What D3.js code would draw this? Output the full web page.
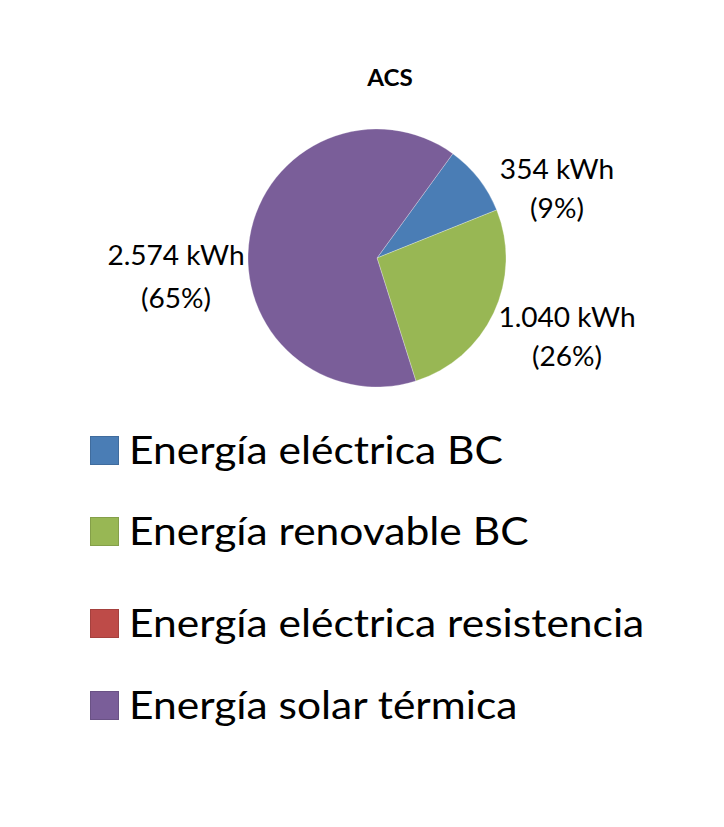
<!DOCTYPE html>
<html>
<head>
<meta charset="utf-8">
<script src="https://cdnjs.cloudflare.com/ajax/libs/d3/7.8.5/d3.min.js"></script>
<style>
  body { margin: 0; background: #fff; }
</style>
</head>
<body>
<script>
const title = "ACS";
const categories = ["Energía eléctrica BC", "Energía renovable BC", "Energía eléctrica resistencia", "Energía solar térmica"];
const values = [354, 1040, 0, 2574];
const valueLabels = ["354 kWh", "1.040 kWh", "", "2.574 kWh"];
const pctLabels = ["(9%)", "(26%)", "", "(65%)"];
const colors = ["#4a7db5", "#98b754", "#be4b48", "#7a5e99"];

const width = 724, height = 827;
const cx = 377, cy = 258, radius = 129;
const font = "Lato, 'Open Sans', sans-serif";

const svg = d3.select("body").append("svg")
    .attr("width", width)
    .attr("height", height);

// title (the original is slightly stretched horizontally)
svg.append("text")
    .attr("transform", "translate(390,86) scale(1.1,1)")
    .attr("text-anchor", "middle")
    .style("font-family", font)
    .style("font-weight", "700")
    .style("font-size", "22px")
    .text(title);

const data = categories.map((c, i) => ({label: c, value: values[i], color: colors[i], vl: valueLabels[i], pl: pctLabels[i]}));

const startA = 36 * Math.PI / 180;
const pie = d3.pie().sort(null).value(d => d.value)
    .startAngle(startA).endAngle(startA + 2 * Math.PI);
const arc = d3.arc().innerRadius(0).outerRadius(radius);

const g = svg.append("g").attr("transform", "translate(" + cx + "," + cy + ")");
const arcs = pie(data);

g.selectAll("path")
    .data(arcs.filter(d => d.data.value > 0))
    .enter()
    .append("path")
    .attr("d", arc)
    .attr("fill", d => d.data.color)
    .attr("stroke", "#ffffff")
    .attr("stroke-opacity", 0.35)
    .attr("stroke-width", 0.8);

// data labels, placed outside the slices: [x, baseline, line gap]
const labelPos = {
    "354 kWh": [180, -79, 39],
    "1.040 kWh": [190, 69, 39],
    "2.574 kWh": [-201, 7, 43]
};
arcs.filter(d => d.data.value > 0).forEach(function (d) {
    const p = labelPos[d.data.vl];
    const t = g.append("text")
        .attr("transform", "translate(" + p[0] + "," + p[1] + ") scale(1.04,1)")
        .attr("text-anchor", "middle")
        .style("font-family", font)
        .style("font-size", "27px")
        .attr("fill", "#000");
    t.append("tspan").attr("x", 0).attr("y", 0).text(d.data.vl);
    t.append("tspan").attr("x", 0).attr("y", p[2]).text(d.data.pl);
});

// legend, rows are not evenly spaced in the original
const rowTops = [436, 517, 609, 691];
const item = svg.append("g").selectAll("g")
    .data(data)
    .enter()
    .append("g")
    .attr("transform", (d, i) => "translate(90," + rowTops[i] + ")");

item.append("rect")
    .attr("x", 0.5)
    .attr("y", 0.5)
    .attr("width", 28)
    .attr("height", 28)
    .attr("fill", d => d.color)
    .attr("stroke", d => d3.color(d.color).darker(0.4))
    .attr("stroke-width", 1);

item.append("text")
    .attr("transform", "translate(39,28) scale(1.12,1)")
    .style("font-family", font)
    .style("font-size", "38px")
    .attr("fill", "#000")
    .text(d => d.label);
</script>
</body>
</html>
